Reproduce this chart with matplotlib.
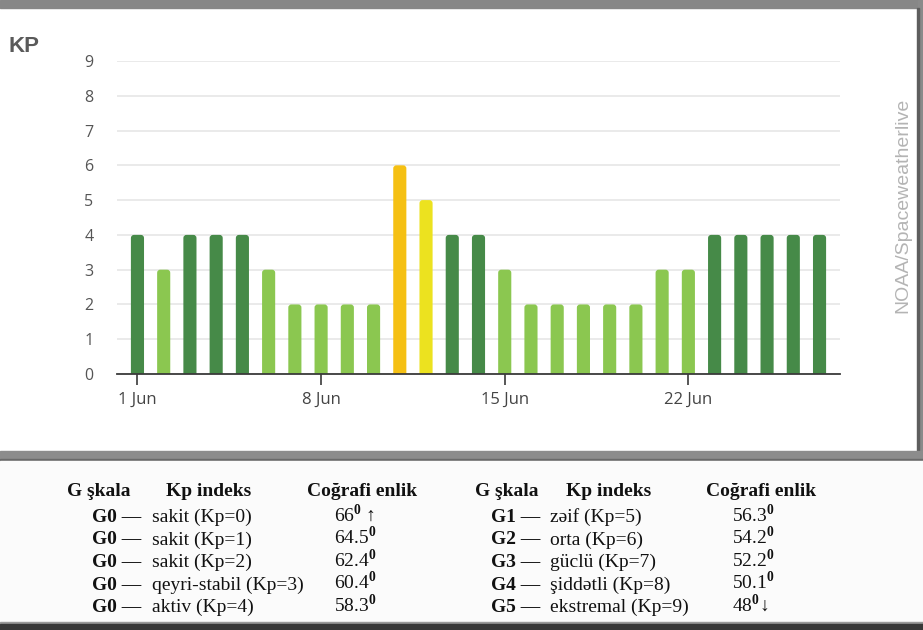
import matplotlib.pyplot as plt
from matplotlib.patches import Rectangle, FancyBboxPatch

plt.rcParams["mathtext.fontset"] = "custom"
plt.rcParams["mathtext.rm"] = "Liberation Serif"
plt.rcParams["mathtext.bf"] = "Liberation Serif:bold"

# daily Kp maximum, 1..27 June
days = list(range(1, 28))
kp = [4, 3, 4, 4, 4, 3, 2, 2, 2, 2, 6, 5, 4, 4, 3, 2, 2, 2, 2, 2, 3, 3, 4, 4, 4, 4, 4]
tick_days = [1, 8, 15, 22]
tick_labels = ["1 Jun", "8 Jun", "15 Jun", "22 Jun"]
kp_colors = {2: "#8bc750", 3: "#8bc750", 4: "#468a48", 5: "#ece21f", 6: "#f5c013"}

# G-scale table (left and right halves)
deg = r"$^{\mathbf{0}}$"
table_header = ["G şkala", "Kp indeks", "Coğrafi enlik"]
g_left = ["G0 —", "G0 —", "G0 —", "G0 —", "G0 —"]
kp_left = ["sakit (Kp=0)", "sakit (Kp=1)", "sakit (Kp=2)", "qeyri-stabil (Kp=3)", "aktiv (Kp=4)"]
lat_left = ["66" + deg + " ↑", "64.5" + deg, "62.4" + deg, "60.4" + deg, "58.3" + deg]
g_right = ["G1 —", "G2 —", "G3 —", "G4 —", "G5 —"]
kp_right = ["zəif (Kp=5)", "orta (Kp=6)", "güclü (Kp=7)", "şiddətli (Kp=8)", "ekstremal (Kp=9)"]
lat_right = ["56.3" + deg, "54.2" + deg, "52.2" + deg, "50.1" + deg, "48" + deg + "↓"]

W, H = 923, 630
fig = plt.figure(figsize=(W / 100, H / 100), dpi=100, facecolor="white")


def fx(x):
    return x / W


def fy(y):
    return 1 - y / H


def box(x0, y0, x1, y1, color):
    fig.patches.append(Rectangle((fx(x0), fy(y1)), fx(x1) - fx(x0), fy(y0) - fy(y1),
                                 transform=fig.transFigure, color=color, zorder=0))


# frame pieces of the screenshot
box(0, 0, W, 8, "#878787")
box(918, 0, W, 460, "#8a8a8a")
box(917, 8, 919, 452, "#5e5e5e")
box(0, 451, W, 461, "#8c8c8c")
box(0, 459, W, 461, "#6a6a6a")
box(0, 461, W, 624, "#fbfbfb")
box(0, 622, W, 624, "#9a9a9a")
box(0, 624, W, H, "#383838")

# bar chart
ax = fig.add_axes([fx(117), fy(374), fx(840) - fx(117), fy(61) - fy(374)])
ax.set_facecolor("white")
bars = ax.bar(days, kp, width=0.5, color=[kp_colors[v] for v in kp], zorder=3)
# swap the plain rectangles for ones with rounded tops (bottom corners hidden below the axis)
for rect in bars:
    rect.set_visible(False)
    ax.add_patch(FancyBboxPatch((rect.get_x(), -0.3), rect.get_width(), rect.get_height() + 0.3,
                                boxstyle="round,pad=0,rounding_size=0.12", mutation_aspect=0.75,
                                facecolor=rect.get_facecolor(), edgecolor="none", zorder=3))
ax.set_xlim(0.22, 27.78)
ax.set_ylim(0, 9)
ax.set_yticks(range(0, 10))
ax.yaxis.grid(True, color="#e6e6e6", linewidth=1.2, zorder=0)
ax.set_xticks(tick_days)
ax.set_xticklabels(tick_labels)
for s in ["left", "right", "top"]:
    ax.spines[s].set_visible(False)
ax.spines["bottom"].set_color("#3a3a3a")
ax.spines["bottom"].set_linewidth(1.3)
ax.spines["bottom"].set_zorder(4)
ax.tick_params(axis="y", length=0, pad=17, labelsize=11.5, labelcolor="#555555")
ax.tick_params(axis="x", length=8, width=1.2, color="#3a3a3a", pad=5, labelsize=12, labelcolor="#444444")
for lab in ax.get_xticklabels() + ax.get_yticklabels():
    lab.set_fontfamily("Open Sans")

fig.text(fx(8), fy(46), "KP", fontsize=16, fontweight="bold", color="#5a5a5a",
         family="Liberation Sans", va="center", ha="left")
fig.text(fx(903), fy(205), "NOAA/Spaceweatherlive", rotation=90, fontsize=14, color="#b4b4b4",
         family="Liberation Sans", va="center", ha="center")

# table below the chart (y values are text baselines in pixels)
serif = ["Liberation Serif", "DejaVu Serif"]
header_y = 496
row_y = [522, 544.5, 567, 589.5, 612]
halves = [
    ([67, 166, 307], 92, 152, 334, g_left, kp_left, lat_left),
    ([475, 566, 706], 491, 550, 732, g_right, kp_right, lat_right),
]
for head_x, gx, kx, lx, gs, kps, lats in halves:
    for hx, h in zip(head_x, table_header):
        fig.text(fx(hx), fy(header_y), h, fontsize=14, fontweight="bold", family=serif,
                 va="baseline", ha="left", color="#111111")
    for y, g, k, lat in zip(row_y, gs, kps, lats):
        fig.text(fx(gx), fy(y), g, fontsize=14, fontweight="bold", family=serif,
                 va="baseline", ha="left", color="#111111")
        fig.text(fx(kx), fy(y), k, fontsize=14, family=serif, va="baseline", ha="left", color="#111111")
        fig.text(fx(lx), fy(y), lat, fontsize=14, family=serif, va="baseline", ha="left",
                 color="#111111")

fig.savefig("out.png", dpi=100, facecolor="white")
